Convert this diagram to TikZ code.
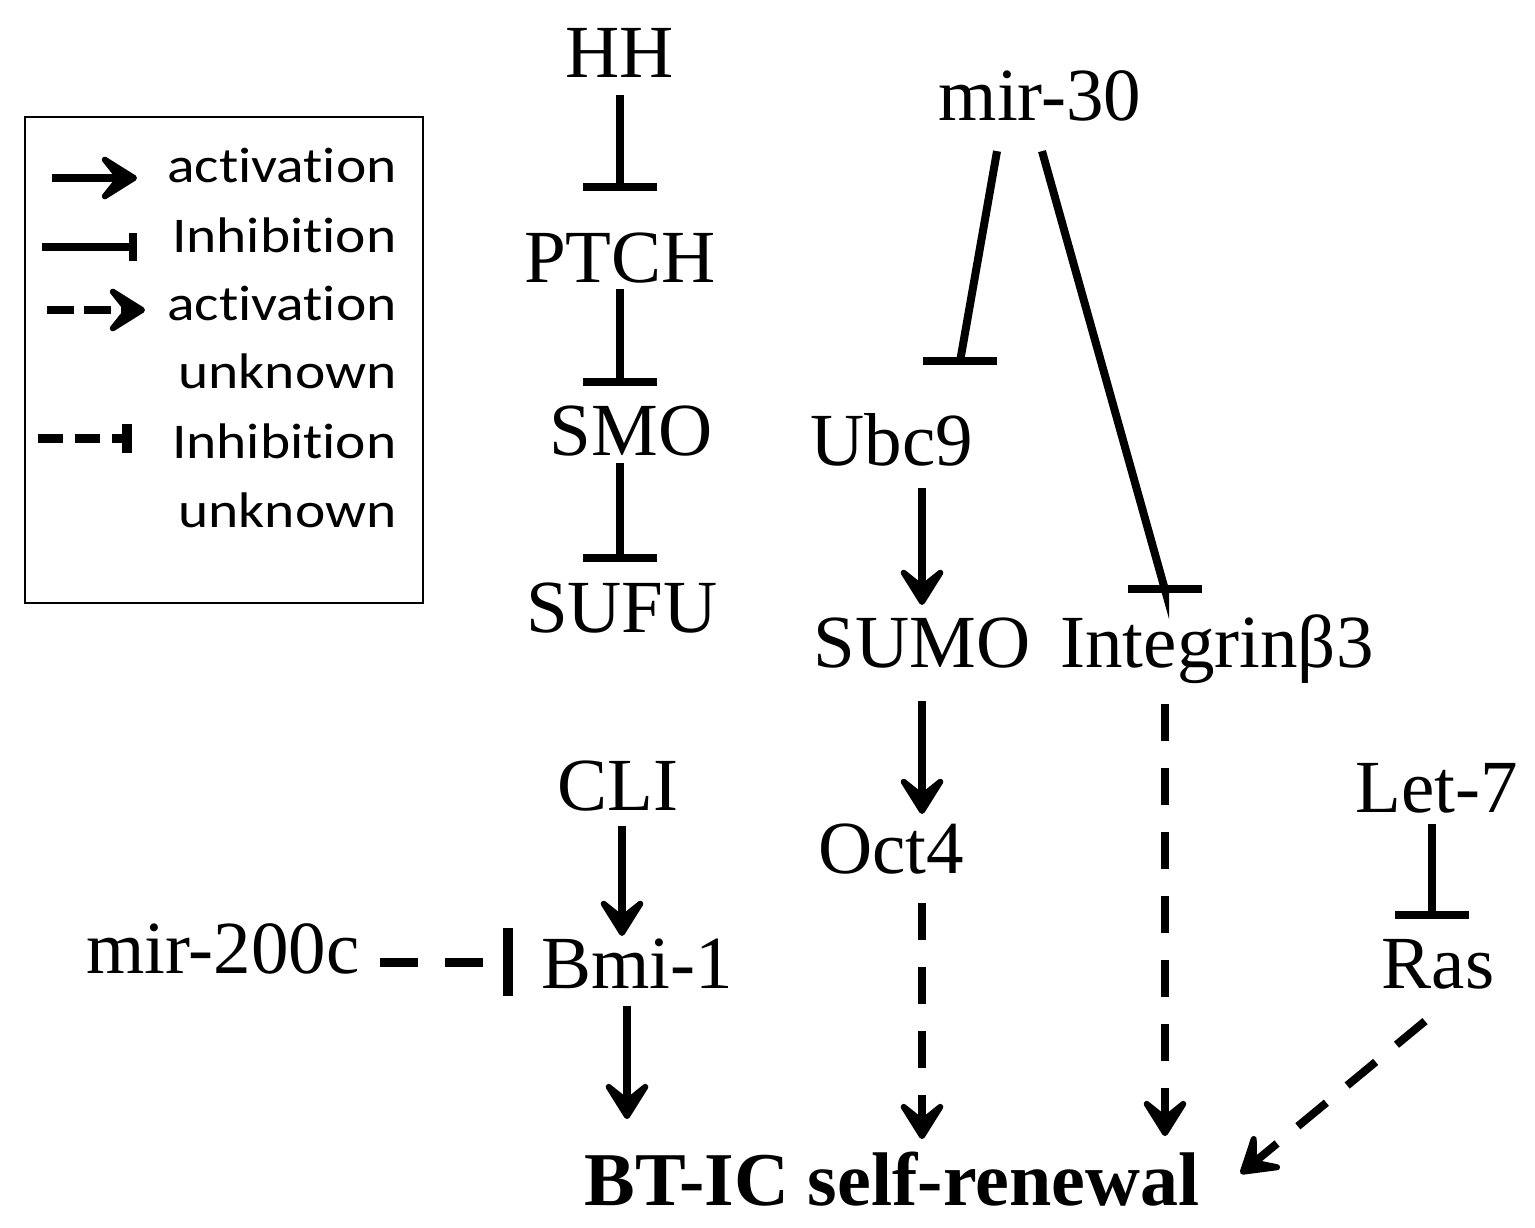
\documentclass[tikz,border=0pt]{standalone}
\usepackage{fontspec}
\setmainfont{Liberation Serif}
\newfontfamily\legfont[FakeStretch=1.15,Ligatures=NoCommon]{Carlito}
\usetikzlibrary{arrows.meta,calc}
\begin{document}
\begin{tikzpicture}[x=0.5pt,y=-0.5pt,
  lbl/.style={anchor=base,inner sep=0pt,font=\fontsize{37.5pt}{40pt}\selectfont},
  leg/.style={anchor=base east,inner sep=0pt,font=\legfont\fontsize{25pt}{30pt}\selectfont},
  act/.style={line width=4pt,-{Stealth[length=24pt,width=30pt,inset=12pt,round]}},
  inh/.style={line width=4pt,-{Bar[width=37pt]}},
  dact/.style={act,dash pattern=on 18.5pt off 13.5pt},
  dinh/.style={line width=4.5pt,dash pattern=on 19pt off 13.5pt,-{Bar[width=34pt,line width=5pt]}},
  lact/.style={act},
  linh/.style={line width=4pt,-{Bar[width=14pt]}},
  ldact/.style={act,dash pattern=on 13.5pt off 5pt},
  ldinh/.style={line width=4.5pt,dash pattern=on 12.5pt off 6pt,-{Bar[width=14.5pt,line width=5pt]}}
]
\useasboundingbox (0,0) rectangle (1535,1227);

% legend
\node[draw,line width=1pt,minimum width=199pt,minimum height=243pt,inner sep=0pt] (legend) at (224,360) {};
\coordinate (l1a) at (52,178);  \coordinate (l1b) at (137,178);
\coordinate (l2a) at (42,247);  \coordinate (l2b) at (137,247);
\coordinate (l3a) at (47,310);  \coordinate (l3b) at (145,310);
\coordinate (l4a) at (38,438);  \coordinate (l4b) at (132,438);
\draw[lact] (l1a) -- (l1b);
\draw[linh] (l2a) -- (l2b);
\draw[ldact] (l3a) -- (l3b);
\draw[ldinh] (l4a) -- (l4b);
\node[leg] (t1) at (397,182) {activation};
\node[leg] (t2) at (397,252) {Inhibition};
\node[leg] (t3) at (397,320) {activation};
\node[leg] (t4) at (397,388) {unknown};
\node[leg] (t5) at (397,458) {Inhibition};
\node[leg] (t6) at (397,527) {unknown};

% nodes
\node[lbl] (HH) at (620,77) {HH};
\node[lbl] (PTCH) at (620,282) {PTCH};
\node[lbl] (SMO) at (631,455) {SMO};
\node[lbl] (SUFU) at (622,632) {SUFU};
\node[lbl] (CLI) at (618,810) {CLI};
\node[lbl] (Bmi) at (637,988) {Bmi-1};
\node[lbl] (mirc) at (223,973) {mir-200c};
\node[lbl] (mir30) at (1040,120) {mir-30};
\node[lbl] (Ubc9) at (892,465) {Ubc9};
\node[lbl] (SUMO) at (922,667) {SUMO};
\node[lbl] (Itg) at (1217,667) {Integrinβ3};
\node[lbl] (Oct4) at (891,873) {Oct4};
\node[lbl] (Let7) at (1437,812) {Let-7};
\node[lbl] (Ras) at (1438,988) {Ras};
\node[lbl,font=\fontsize{38pt}{40pt}\selectfont\bfseries] (BT) at (892,1205) {BT-IC self-renewal};

% connectors
\draw[inh,shorten <=9pt,shorten >=20.5pt] (HH.south) -- (PTCH.north);
\draw[inh,shorten <=3pt,shorten >=9.5pt] (PTCH.south) -- (PTCH.south |- SMO.north);
\draw[inh,shorten <=3.5pt,shorten >=10pt] (PTCH.south |- SMO.south) -- (PTCH.south |- SUFU.north);
\draw[act,shorten <=7.5pt,shorten >=1pt] ([xshift=2pt]CLI.south) -- ([xshift=2pt]CLI.south |- Bmi.north);
\draw[act,shorten <=8.5pt,shorten >=16pt] ([xshift=-5pt]Bmi.south) -- ([xshift=-5pt]Bmi.south |- BT.north);
\draw[dinh,shorten <=10pt,shorten >=14pt] ([yshift=5.5pt]mirc.base east) -- ([yshift=5.5pt]mirc.base east -| Bmi.west);
\draw[act,shorten <=11pt,shorten >=6pt] (Ubc9.south -| SUMO.north) -- (SUMO.north);
\draw[act,shorten <=16.5pt,shorten >=4.5pt] (SUMO.south) -- (SUMO.south |- Oct4.north);
\draw[dact,shorten <=14.5pt,shorten >=6pt] (SUMO.south |- Oct4.south) -- (SUMO.south |- BT.north);
\draw[dact,shorten <=10pt,shorten >=7.5pt] ([xshift=-26pt]Itg.south) -- ([xshift=-26pt]Itg.south |- BT.north);
\draw[inh,shorten <=5.5pt,shorten >=10pt] ([xshift=-2.5pt]Let7.south) -- ([xshift=-2.5pt]Let7.south |- Ras.north);
\draw[dact] ([xshift=-6.5pt,yshift=-16pt]Ras.south) -- ([xshift=20.5pt,yshift=2.5pt]BT.east);
\draw[inh] ([xshift=-21.5pt,yshift=-15pt]mir30.south) -- ([xshift=34pt,yshift=25.5pt]Ubc9.north) -- ++(0,3);
\draw[inh] ([xshift=1pt,yshift=-15pt]mir30.south) -- ([xshift=-26pt,yshift=12pt]Itg.north) -- ++(0,3);
\end{tikzpicture}
\end{document}
